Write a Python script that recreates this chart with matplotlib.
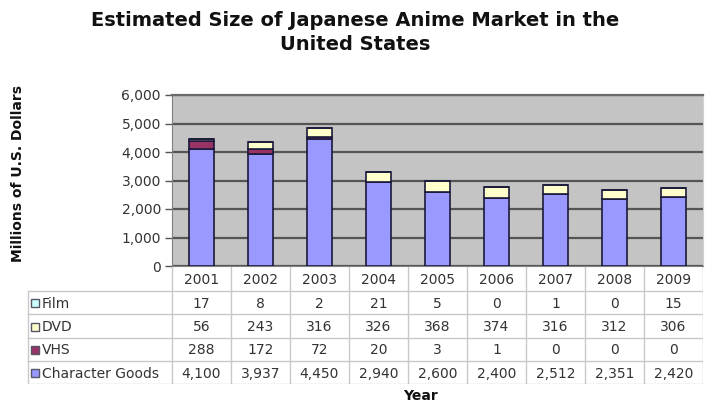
import matplotlib
matplotlib.use("Agg")
import matplotlib.pyplot as plt
import matplotlib.transforms as mtransforms
from matplotlib.patches import Rectangle
from matplotlib.ticker import FuncFormatter

years = ["2001", "2002", "2003", "2004", "2005", "2006", "2007", "2008", "2009"]
film = [17, 8, 2, 21, 5, 0, 1, 0, 15]
dvd = [56, 243, 316, 326, 368, 374, 316, 312, 306]
vhs = [288, 172, 72, 20, 3, 1, 0, 0, 0]
character_goods = [4100, 3937, 4450, 2940, 2600, 2400, 2512, 2351, 2420]

series_names = ["Character Goods", "VHS", "DVD", "Film"]
series_values = [character_goods, vhs, dvd, film]
series_colors = ["#9999FF", "#993366", "#FFFFCC", "#CCFFFF"]

title = "Estimated Size of Japanese Anime Market in the\nUnited States"
ylabel = "Millions of U.S. Dollars"
xlabel = "Year"

W, H = 705, 405
fig = plt.figure(figsize=(W / 100, H / 100), dpi=100)
fig.patch.set_facecolor("white")

def box(l, t, r, b):
    return [l / W, 1 - b / H, (r - l) / W, (b - t) / H]

# main bar axes
ax = fig.add_axes(box(172, 95, 703, 266))
ax.set_facecolor("#C4C4C4")
x = list(range(len(years)))
bottom = [0] * len(years)
for name, vals, col in zip(series_names, series_values, series_colors):
    ax.bar(x, vals, width=0.42, bottom=bottom, color=col, edgecolor="#1a1a3a",
           linewidth=1.2, zorder=3)
    bottom = [b + v for b, v in zip(bottom, vals)]
ax.set_xlim(-0.5, len(years) - 0.5)
ax.set_ylim(0, 6000)
ax.set_yticks(range(0, 6001, 1000))
ax.yaxis.set_major_formatter(FuncFormatter(lambda v, p: f"{int(v):,}"))
ax.set_xticks([])
ax.yaxis.grid(True, color="#555555", linewidth=1.6, zorder=1)
ax.set_axisbelow(True)
ax.tick_params(axis="y", length=5, width=1, color="#555555", pad=3,
               labelsize=10, labelcolor="#333333")
ax.spines["top"].set_color("#6a6a6a")
ax.spines["top"].set_linewidth(1.6)
ax.spines["left"].set_color("#808080")
ax.spines["bottom"].set_color("#808080")
ax.spines["right"].set_color("#d0d0d0")

# table axes
tl, tt, tr, tb = 27, 267, 703, 384
tax = fig.add_axes(box(tl, tt, tr, tb))
tax.set_xlim(tl, tr)
tax.set_ylim(tb, tt)
tax.axis("off")
blend = mtransforms.blended_transform_factory(ax.transData, tax.transData)

row_edges = [267, 291, 314, 338, 361, 384]
line_kw = dict(color="#c8c8c8", linewidth=1.0)
for i in range(len(years) + 1):
    tax.plot([i - 0.5, i - 0.5], [row_edges[0], row_edges[-1]], transform=blend, **line_kw)
tax.plot([tl + 0.5, tl + 0.5], [row_edges[1], row_edges[-1]], **line_kw)
for y in row_edges[1:]:
    tax.plot([tl + 0.5, tr], [y, y], **line_kw)

text_color = "#333333"
for i, yr in enumerate(years):
    tax.text(i, (row_edges[0] + row_edges[1]) / 2 + 1, yr, transform=blend,
             ha="center", va="center", fontsize=10, color=text_color)

table_rows = list(zip(series_names, series_values, series_colors))[::-1]
for r, (name, vals, col) in enumerate(table_rows):
    yc = (row_edges[r + 1] + row_edges[r + 2]) / 2 + 1
    tax.add_patch(Rectangle((30.5, yc - 4.5), 8, 8, facecolor=col,
                            edgecolor="#555566", linewidth=1.0))
    tax.text(42, yc, name, ha="left", va="center", fontsize=10, color=text_color)
    for i, v in enumerate(vals):
        tax.text(i, yc, f"{v:,}", transform=blend, ha="center", va="center",
                 fontsize=10, color=text_color)

fig.text(355 / W, 1 - 11 / H, title, ha="center", va="top", fontsize=14,
         fontweight="bold", color="#111111", linespacing=1.3)
fig.text(18 / W, 1 - 173 / H, ylabel, rotation=90, ha="center", va="center",
         fontsize=10, fontweight="bold", color="#111111")
fig.text(420 / W, 1 - 396 / H, xlabel, ha="center", va="center",
         fontsize=10, fontweight="bold", color="#111111")

fig.savefig("out.png", dpi=100, facecolor="white")
